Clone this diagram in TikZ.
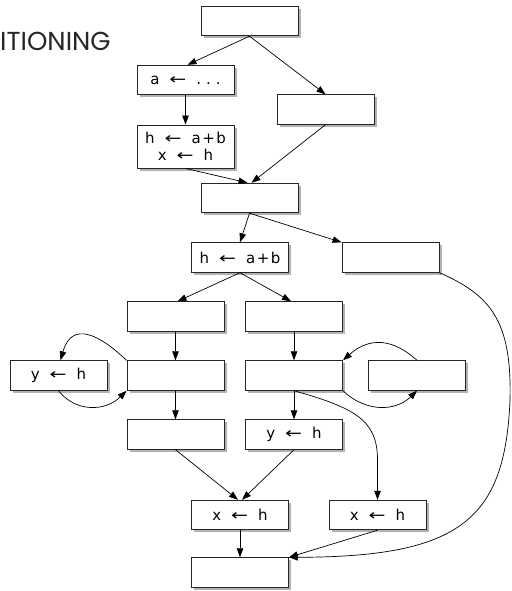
\documentclass[tikz,border=0pt]{standalone}
\usepackage{fontspec}
\usepackage{graphicx}
\setmainfont{DejaVu Sans}
\newfontfamily\titlefont{Poppins}
\usetikzlibrary{arrows.meta,shadows}
\newcommand\gp{\hspace{10pt}}
\newcommand\ar{\scalebox{1.35}[1]{←}}
\newcommand\apb{a\hspace{1.5pt}+\hspace{1.5pt}b}
\newcommand\dts{.\hspace{5pt}.\hspace{5pt}.}
\begin{document}
\begin{tikzpicture}[x=1pt,y=-1pt,
  blk/.style={draw=black!85, line width=0.9pt, fill=white, minimum width=97pt, minimum height=29.5pt, inner sep=0pt,
    font=\fontsize{15}{17}\selectfont,
    drop shadow={shadow xshift=2.5pt, shadow yshift=-2.5pt, opacity=0.3, fill=black}},
  arr/.style={-{Triangle[length=9pt,width=6.5pt]}, line width=0.7pt},
]
\useasboundingbox (0,0) rectangle (511,591);
\node[anchor=base west, inner sep=0pt, font=\titlefont\fontsize{26}{26}\selectfont, text=black!85] (title) at (0,51) {ITIONING};

\node[blk] (top) at (249.5,21) {};
\node[blk] (a) at (185.5,80) {a\gp\ar\gp\dts};
\node[blk] (r1) at (325.5,109.5) {};
\node[blk, minimum height=43pt, align=center] (h1) at (185.5,146.5) {h\gp\ar\gp\apb\\x\gp\ar\gp h};
\node[blk] (b2) at (249.5,198) {};
\node[blk] (h2) at (240,257.5) {h\gp\ar\gp\apb};
\node[blk] (r2) at (390.5,257.5) {};
\node[blk] (l1) at (175.5,316.5) {};
\node[blk] (r3) at (294,316.5) {};
\node[blk] (yl) at (58.5,375.5) {y\gp\ar\gp h};
\node[blk] (l2) at (175.5,375.5) {};
\node[blk] (r4) at (294,375.5) {};
\node[blk] (r5) at (417,375.5) {};
\node[blk] (l3) at (175.5,434.5) {};
\node[blk] (ym) at (294,434.5) {y\gp\ar\gp h};
\node[blk] (xl) at (240,515) {x\gp\ar\gp h};
\node[blk] (xr) at (377.5,515) {x\gp\ar\gp h};
\node[blk] (bot) at (240,572.5) {};

\draw[arr] (top.south) -- ([xshift=2pt]a.north);
\draw[arr] (top.south) -- (r1.north);
\draw[arr] (a.south) -- (h1.north);
\draw[arr] (h1.south) -- ([xshift=-2pt]b2.north);
\draw[arr] (r1.south) -- ([xshift=2pt]b2.north);
\draw[arr] (b2.south) -- (h2.north);
\draw[arr] (b2.south) -- (r2.north west);
\draw[arr] (h2.south) -- ([xshift=2pt]l1.north);
\draw[arr] (h2.south) -- ([xshift=-3pt]r3.north);
\draw[arr] (l1.south) -- (l2.north);
\draw[arr] (r3.south) -- (r4.north);
\draw[arr] (l2.north west) .. controls (100,335) and (72,320) .. ([xshift=2pt]yl.north);
\draw[arr] (yl.south) .. controls (75,412) and (105,412) .. (l2.south west);
\draw[arr] (r5.north) .. controls (400,345) and (375,332) .. (r4.north east);
\draw[arr] (r4.south east) .. controls (365,412) and (395,412) .. (r5.south);
\draw[arr] (l2.south) -- (l3.north);
\draw[arr] (r4.south) -- (ym.north);
\draw[arr] (r4.south) .. controls (355,408) and (377.5,420) .. (377.5,460) -- (xr.north);
\draw[arr] (l3.south) -- ([xshift=-2pt]xl.north);
\draw[arr] (ym.south) -- ([xshift=2pt]xl.north);
\draw[arr] (xl.south) -- (bot.north);
\draw[arr] (xr.south) -- (bot.north east);
\draw[arr] (r2.south east) .. controls (490,295) and (512,320) .. (510,400) .. controls (505,520) and (460,557) .. (bot.north east);
\end{tikzpicture}
\end{document}
